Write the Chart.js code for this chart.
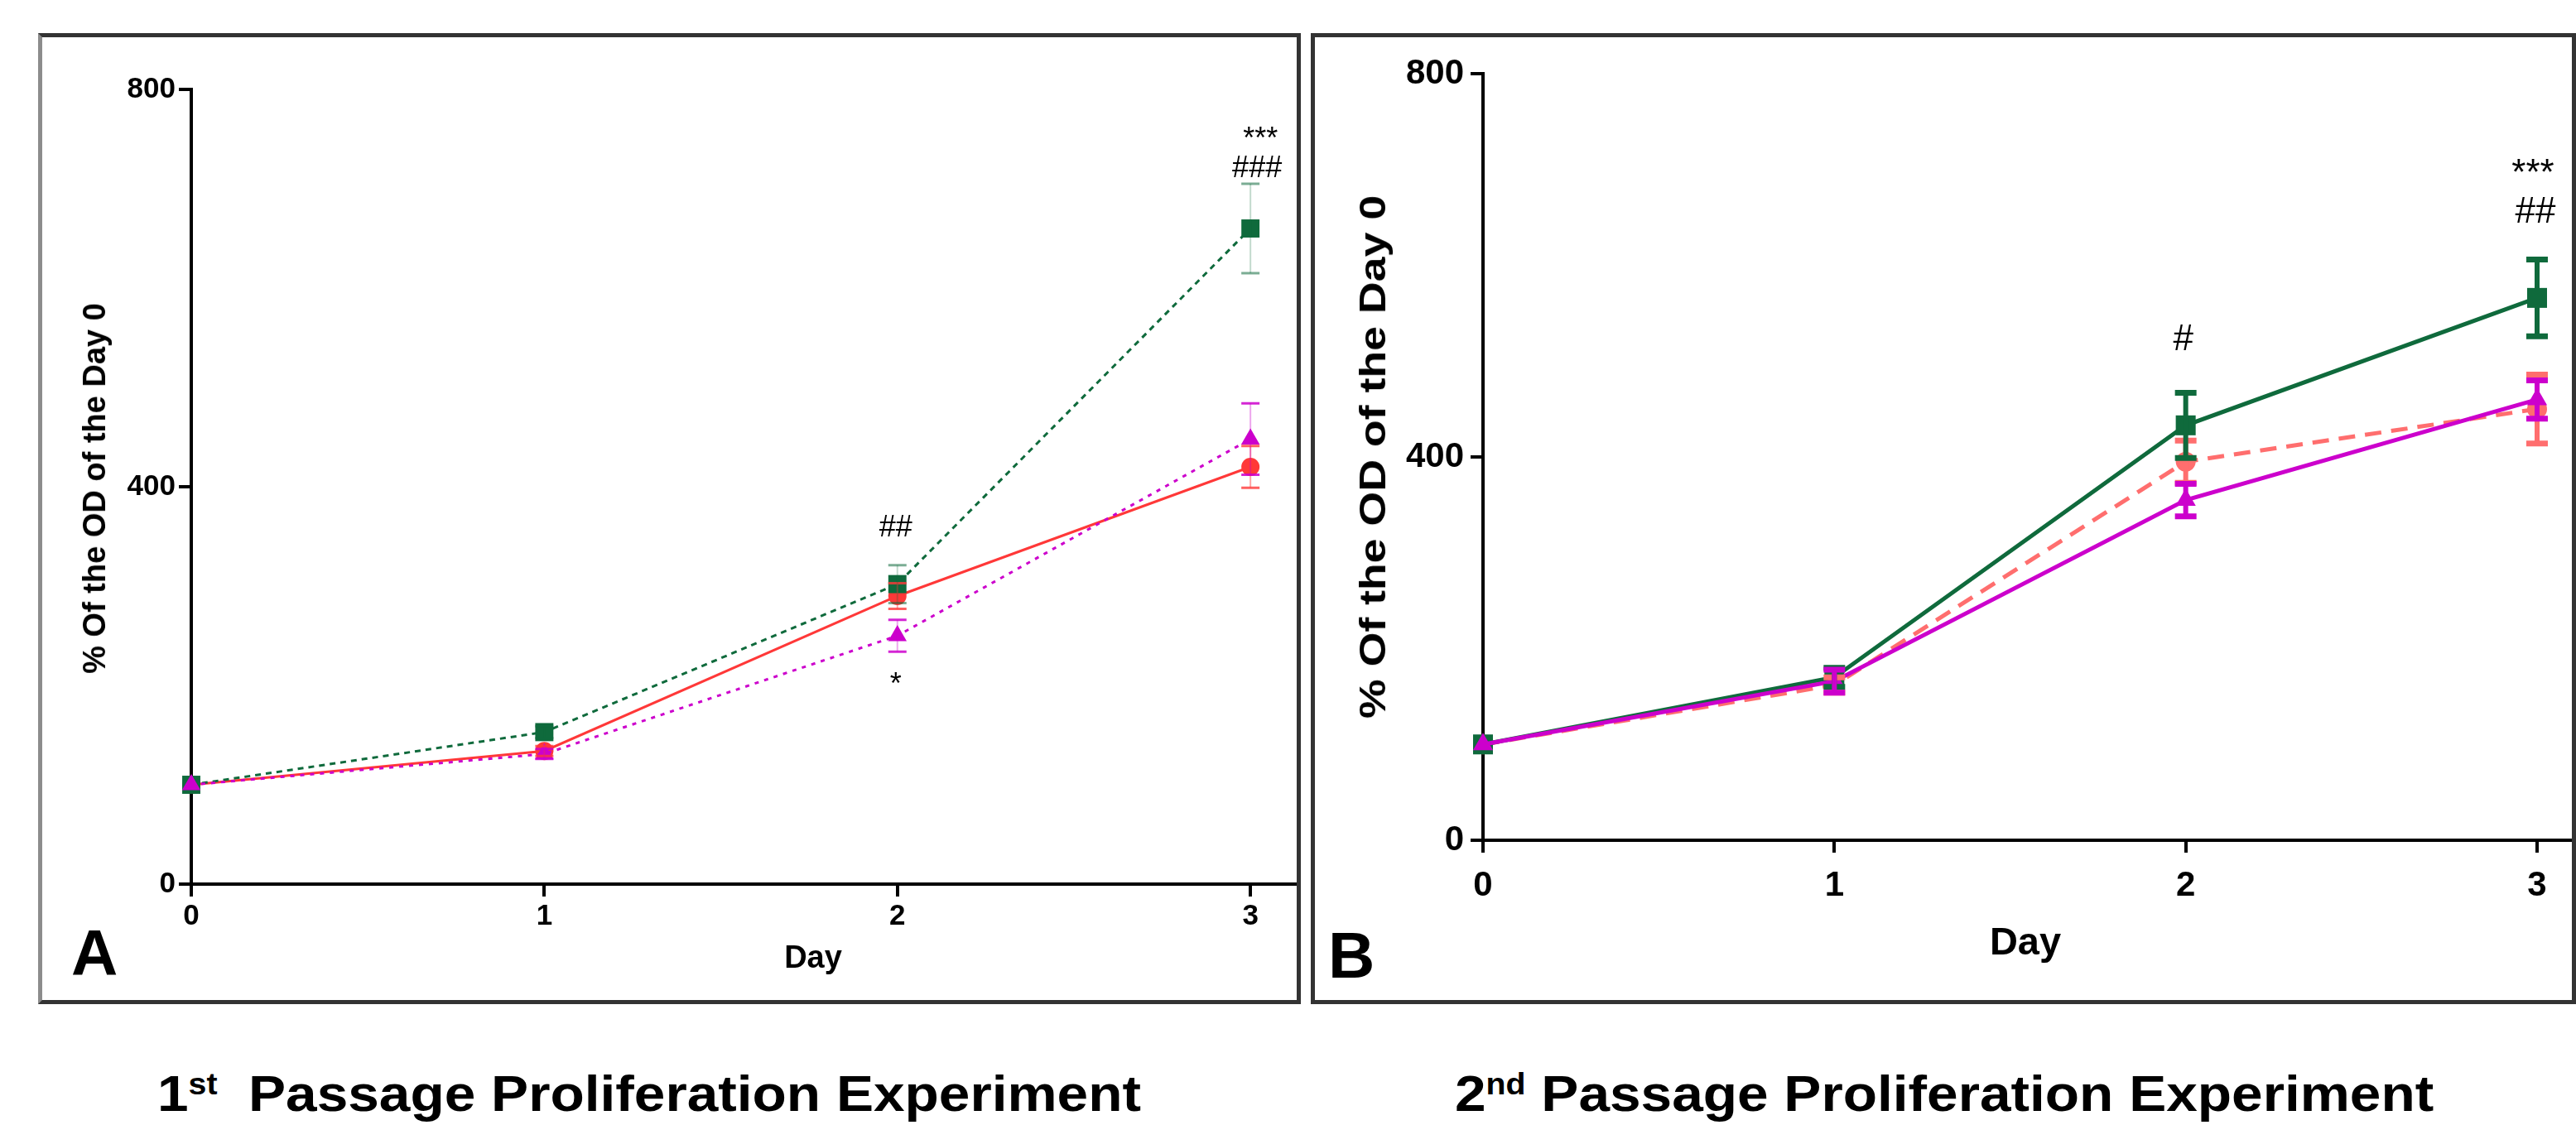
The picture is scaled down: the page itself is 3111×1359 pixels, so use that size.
<!DOCTYPE html>
<html>
<head>
<meta charset="utf-8">
<script src="https://cdn.jsdelivr.net/npm/chart.js@4.4.1/dist/chart.umd.min.js"></script>
<style>
  html, body { margin: 0; padding: 0; background: #fff; }
  body { width: 3111px; height: 1359px; position: relative; overflow: hidden; font-family: "Liberation Sans", Arial, sans-serif; }
  .frame { position: absolute; box-sizing: border-box; border: 5px solid #333; }
  canvas { position: absolute; }
  .txt { position: absolute; font-weight: bold; color: #000; line-height: 1; white-space: nowrap; }
</style>
</head>
<body>
<div class="frame" style="left:46px;top:40px;width:1525px;height:1173px;border-left-color:#8c8c8c;"></div>
<div class="frame" style="left:1583px;top:40px;width:1528px;height:1173px;"></div>

<canvas id="chartA" width="1515" height="1163" style="left:51px;top:45px;width:1515px;height:1163px;"></canvas>
<canvas id="chartB" width="1518" height="1163" style="left:1588px;top:45px;width:1518px;height:1163px;"></canvas>

<!-- axis titles and panel letters -->
<div class="txt" style="left:114px;top:590px;font-size:38px;transform:translate(-50%,-50%) rotate(-90deg);">% Of the OD of the Day 0</div>
<div class="txt" style="left:1658px;top:552px;font-size:44px;transform:translate(-50%,-50%) rotate(-90deg) scaleX(1.22);">% Of the OD of the Day 0</div>
<div class="txt" style="left:882px;top:1137px;width:200px;text-align:center;font-size:38px;">Day</div>
<div class="txt" style="left:2346px;top:1113px;width:200px;text-align:center;font-size:47px;">Day</div>
<div class="txt" style="left:86px;top:1112px;font-size:78px;">A</div>
<div class="txt" style="left:1604px;top:1115px;font-size:78px;">B</div>

<!-- captions -->
<div class="txt" style="left:190px;top:1290px;font-size:62px;transform:scaleX(1.09);transform-origin:left top;">1<span style="font-size:36px;position:relative;top:-20px;">st</span>&nbsp;&nbsp;Passage Proliferation Experiment</div>
<div class="txt" style="left:1757px;top:1290px;font-size:62px;transform:scaleX(1.09);transform-origin:left top;">2<span style="font-size:36px;position:relative;top:-20px;">nd</span> Passage Proliferation Experiment</div>

<script>
// ---------- DATA ----------
const days = [0, 1, 2, 3];
const dayTicks = [0, 1, 2, 3];
const valueTicks = [0, 400, 800];

// Panel A (1st passage)
const aGreen      = [100, 153, 302, 660];
const aGreenErr   = [0, 6, 19, 45];
const aRed        = [100, 134, 290, 420];
const aRedErr     = [0, 5, 13, 21];
const aMagenta    = [100, 131, 250, 448];
const aMagentaErr = [0, 5, 16, 36];

// Panel B (2nd passage)
const bGreen      = [100, 170, 433, 566];
const bGreenErr   = [0, 10, 34, 40];
const bRed        = [100, 162, 395, 450];
const bRedErr     = [0, 8, 22, 36];
const bMagenta    = [100, 166, 355, 460];
const bMagentaErr = [0, 12, 17, 20];

// Significance marks
const aMarkDays   = [2, 2, 3, 3];
const aMarkValues = [358, 200, 749, 720];
const aMarkTexts  = ['##', '*', '***', '###'];
const bMarkDays   = [2, 3, 3];
const bMarkValues = [522, 695, 655];
const bMarkTexts  = ['#', '***', '##'];

// ---------- COLOURS ----------
const GREEN = '#0f6a3c';
const MAGENTA = '#cc00cc';
const RED_A = '#ff3838';
const RED_B = '#ff6e6e';

const toPts = (arr) => days.map((d, i) => ({ x: d, y: arr[i] }));

const errorBarPlugin = {
  id: 'errorBars',
  afterDatasetsDraw(chart) {
    const ctx = chart.ctx;
    const xs = chart.scales.x, ys = chart.scales.y;
    const metas = chart.getSortedVisibleDatasetMetas().slice().reverse();
    metas.forEach((meta) => {
      const ds = chart.data.datasets[meta.index];
      if (!ds.errors) return;
      ctx.save();
      ds.data.forEach((p, j) => {
        const e = ds.errors[j];
        if (!e) return;
        const x = xs.getPixelForValue(p.x);
        const yt = ys.getPixelForValue(p.y + e);
        const yb = ys.getPixelForValue(p.y - e);
        const cap = ds.errCap;
        ctx.strokeStyle = ds.errStemColor;
        ctx.lineWidth = ds.errStemWidth;
        ctx.beginPath(); ctx.moveTo(x, yt); ctx.lineTo(x, yb); ctx.stroke();
        ctx.strokeStyle = ds.errCapColor;
        ctx.lineWidth = ds.errCapWidth;
        ctx.beginPath();
        ctx.moveTo(x - cap, yt); ctx.lineTo(x + cap, yt);
        ctx.moveTo(x - cap, yb); ctx.lineTo(x + cap, yb);
        ctx.stroke();
      });
      ctx.restore();
    });
  }
};

const marksPlugin = {
  id: 'sigMarks',
  afterDatasetsDraw(chart, args, opts) {
    if (!opts || !opts.days) return;
    const ctx = chart.ctx;
    const xs = chart.scales.x, ys = chart.scales.y;
    ctx.save();
    ctx.font = opts.font;
    ctx.fillStyle = '#000';
    ctx.textAlign = 'center';
    ctx.textBaseline = 'middle';
    opts.days.forEach((d, i) => {
      ctx.fillText(opts.texts[i], xs.getPixelForValue(d) + (opts.dx[i] || 0), ys.getPixelForValue(opts.values[i]));
    });
    ctx.restore();
  }
};

function makeChart(id, cfg) {
  const tickFont = { family: 'Liberation Sans', weight: 'bold', size: cfg.tickSize };
  return new Chart(document.getElementById(id), {
    type: 'line',
    data: { datasets: cfg.datasets },
    plugins: [errorBarPlugin, marksPlugin],
    options: {
      responsive: false,
      devicePixelRatio: 1,
      animation: false,
      layout: { autoPadding: false, padding: { top: cfg.padTop, left: 0, right: 0, bottom: 0 } },
      plugins: {
        legend: { display: false },
        tooltip: { enabled: false },
        sigMarks: cfg.marks
      },
      scales: {
        x: {
          type: 'linear',
          min: 0,
          max: cfg.xMax,
          afterBuildTicks: (s) => { s.ticks = dayTicks.map(v => ({ value: v })); },
          afterFit: (s) => { s.height = cfg.xHeight; s.paddingLeft = 0; s.paddingRight = 0; },
          ticks: { font: tickFont, color: '#000', padding: cfg.xPad, maxRotation: 0, autoSkip: false },
          grid: { drawOnChartArea: false, drawTicks: true, tickLength: 15, color: '#000', lineWidth: cfg.axisW },
          border: { display: true, color: '#000', width: cfg.axisW }
        },
        y: {
          min: 0,
          max: 800,
          afterBuildTicks: (s) => { s.ticks = valueTicks.map(v => ({ value: v })); },
          afterFit: (s) => { s.width = cfg.yWidth; s.paddingTop = 0; s.paddingBottom = 0; },
          ticks: { font: tickFont, color: '#000', padding: cfg.yPad },
          grid: { drawOnChartArea: false, drawTicks: true, tickLength: 15, color: '#000', lineWidth: cfg.axisW },
          border: { display: true, color: '#000', width: cfg.axisW }
        }
      }
    }
  });
}

// Panel A
makeChart('chartA', {
  tickSize: 35, padTop: 63, xHeight: 140, yWidth: 180, xMax: 3.131, xPad: 3, yPad: 4, axisW: 4,
  marks: { days: aMarkDays, values: aMarkValues, texts: aMarkTexts, dx: [-2, -2, 12, 8], font: '36px "Liberation Sans"' },
  datasets: [
    { label: 'Magenta', data: toPts(aMagenta), errors: aMagentaErr, order: 1, clip: false,
      borderColor: MAGENTA, borderWidth: 3, borderDash: [5, 7], pointStyle: 'triangle', pointRadius: 13,
      pointBackgroundColor: MAGENTA, pointBorderWidth: 0, fill: false, tension: 0,
      errCap: 11, errStemColor: 'rgba(204,0,204,0.35)', errStemWidth: 2, errCapColor: 'rgba(204,0,204,0.85)', errCapWidth: 3 },
    { label: 'Green', data: toPts(aGreen), errors: aGreenErr, order: 2, clip: false,
      borderColor: GREEN, borderWidth: 3, borderDash: [7, 6], pointStyle: 'rect', pointRadius: 15.5,
      pointBackgroundColor: GREEN, pointBorderWidth: 0, fill: false, tension: 0,
      errCap: 11, errStemColor: 'rgba(15,106,60,0.25)', errStemWidth: 2, errCapColor: 'rgba(15,106,60,0.55)', errCapWidth: 3 },
    { label: 'Red', data: toPts(aRed), errors: aRedErr, order: 3, clip: false,
      borderColor: RED_A, borderWidth: 3, pointStyle: 'circle', pointRadius: 11,
      pointBackgroundColor: RED_A, pointBorderWidth: 0, fill: false, tension: 0,
      errCap: 11, errStemColor: 'rgba(255,56,56,0.45)', errStemWidth: 2, errCapColor: 'rgba(255,56,56,0.8)', errCapWidth: 3 }
  ]
});

// Panel B
makeChart('chartB', {
  tickSize: 42, padTop: 44, xHeight: 193, yWidth: 203, xMax: 3.099, xPad: 15, yPad: 8, axisW: 4,
  marks: { days: bMarkDays, values: bMarkValues, texts: bMarkTexts, dx: [-3, -5, -2], font: '44px "Liberation Sans"' },
  datasets: [
    { label: 'Magenta', data: toPts(bMagenta), errors: bMagentaErr, order: 1, clip: false,
      borderColor: MAGENTA, borderWidth: 5, pointStyle: 'triangle', pointRadius: 14,
      pointBackgroundColor: MAGENTA, pointBorderWidth: 0, fill: false, tension: 0,
      errCap: 13, errStemColor: MAGENTA, errStemWidth: 6, errCapColor: MAGENTA, errCapWidth: 7 },
    { label: 'Green', data: toPts(bGreen), errors: bGreenErr, order: 2, clip: false,
      borderColor: GREEN, borderWidth: 5, pointStyle: 'rect', pointRadius: 17,
      pointBackgroundColor: GREEN, pointBorderWidth: 0, fill: false, tension: 0,
      errCap: 13, errStemColor: GREEN, errStemWidth: 6, errCapColor: GREEN, errCapWidth: 7 },
    { label: 'Red', data: toPts(bRed), errors: bRedErr, order: 3, clip: false,
      borderColor: RED_B, borderWidth: 5, borderDash: [20, 12], pointStyle: 'circle', pointRadius: 12,
      pointBackgroundColor: RED_B, pointBorderWidth: 0, fill: false, tension: 0,
      errCap: 13, errStemColor: RED_B, errStemWidth: 6, errCapColor: RED_B, errCapWidth: 7 }
  ]
});
</script>
</body>
</html>
